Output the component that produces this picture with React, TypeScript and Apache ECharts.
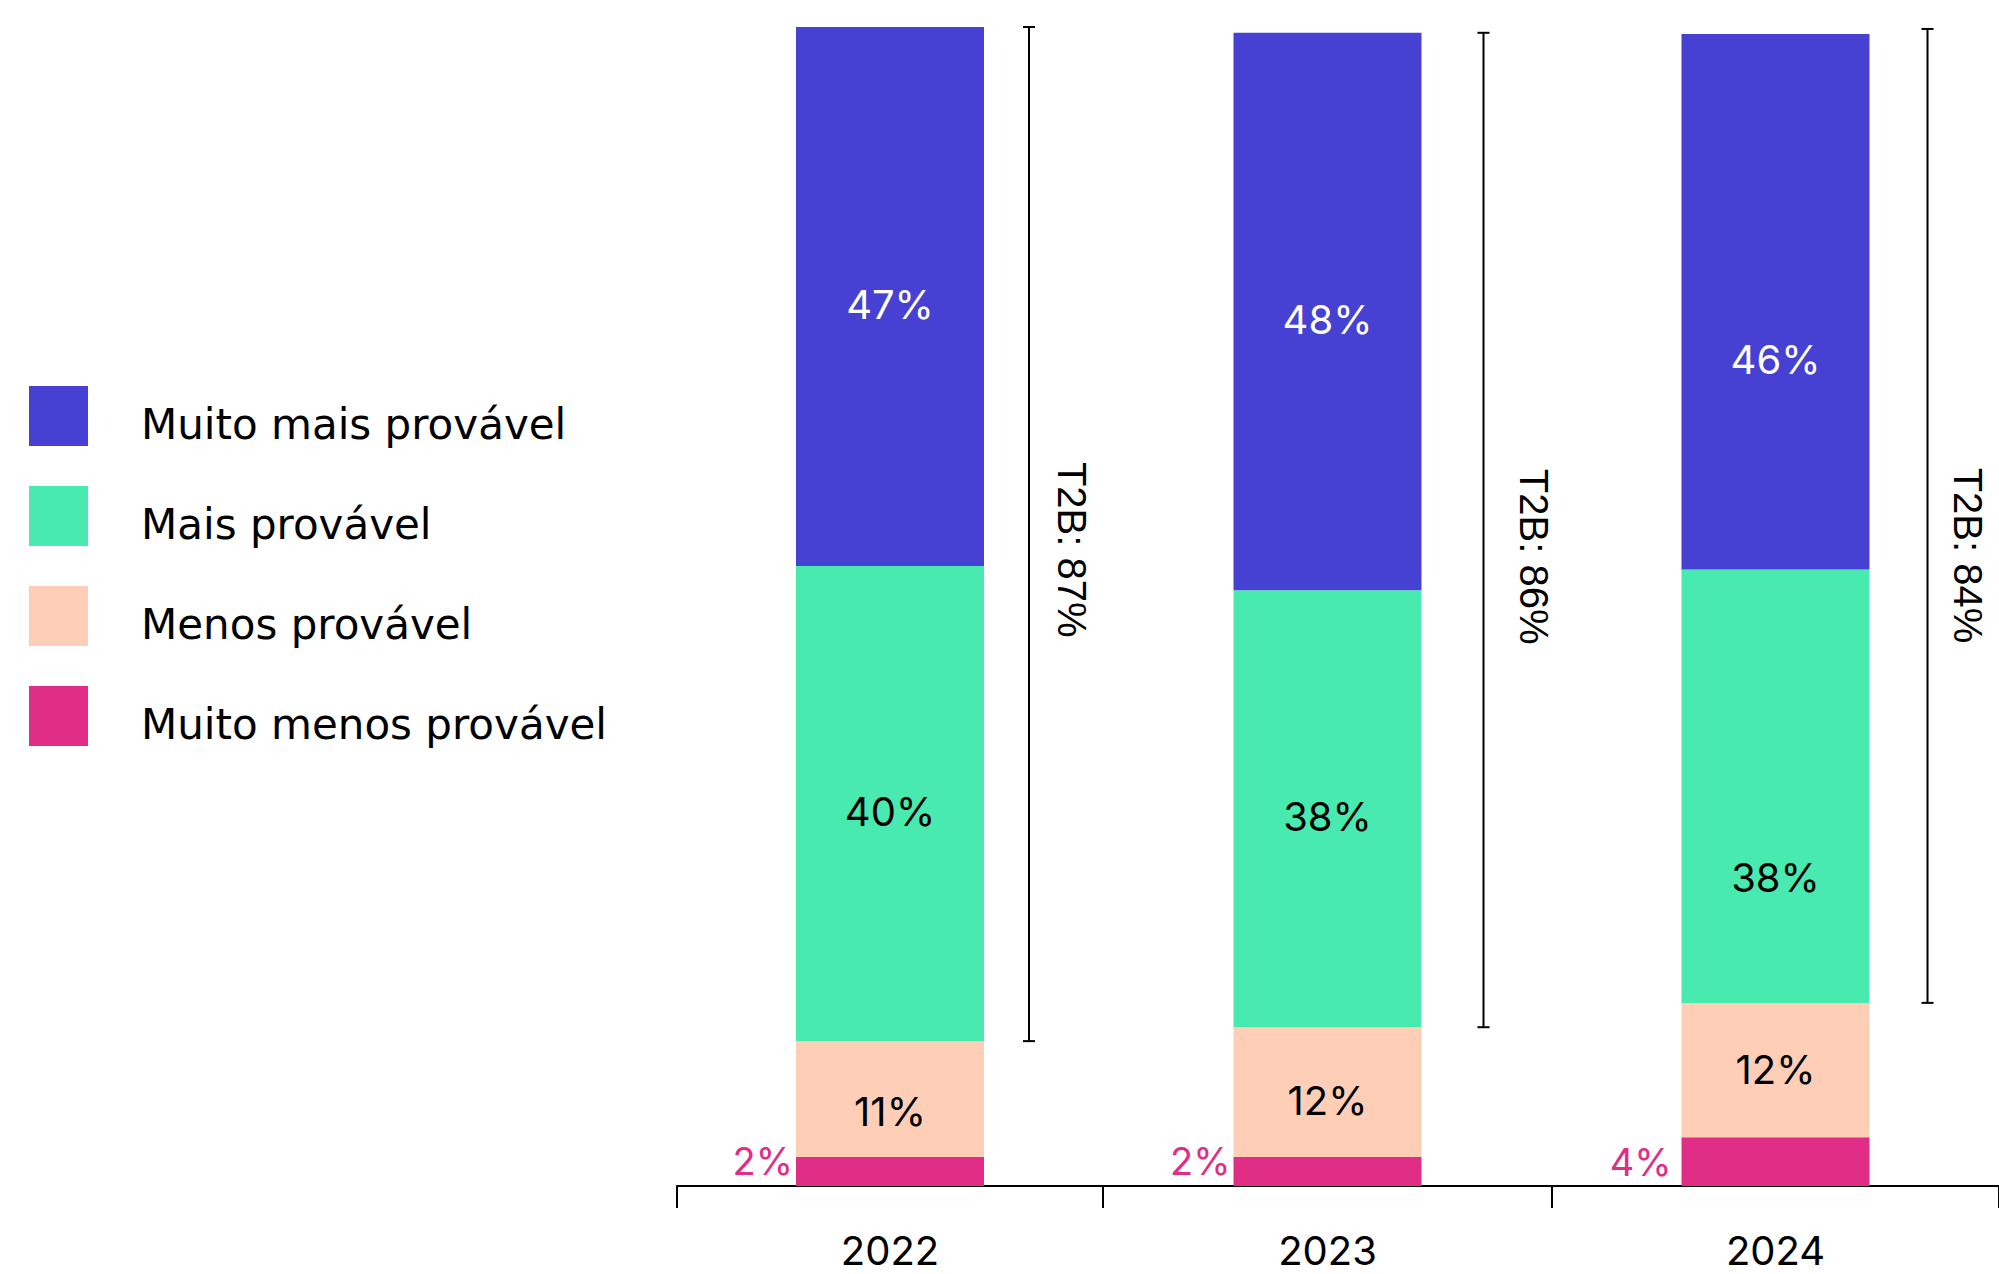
import React, { useEffect, useRef } from "react";
import * as echarts from "echarts";

// ---- data ----
const categories = ["2022", "2023", "2024"];
const seriesNames = ["Muito mais provável", "Mais provável", "Menos provável", "Muito menos provável"];
const muitoMais = [46.5, 48.1, 46.2];
const mais = [41.0, 37.7, 37.4];
const menos = [10.0, 11.2, 11.6];
const muitoMenos = [2.5, 2.5, 4.2];
const muitoMaisLabels = ["47%", "48%", "46%"];
const maisLabels = ["40%", "38%", "38%"];
const menosLabels = ["11%", "12%", "12%"];
const muitoMenosLabels = ["2%", "2%", "4%"];
const t2bValues = [87, 86, 84];

// ---- layout / style ----
const COLORS = ["#4640D3", "#49EAAF", "#FECFB6", "#E02D86"];
const FONT = "Inter";
const LEGEND_FONT = "DejaVu Sans";
const gridLefts = [677, 1103, 1552];
const gridWidths = [426, 449, 457];
const bracketDx = [139, 156, 152];
const bracketTopDy = [0, 0, -5];
const t2bTextDx = [182, 206, 192];
const t2bTextAt = [54.9, 54.3, 54.4];
const blueLabelDy = [8, 8, 58];
const greenLabelDy = [8, 8, 91];
const peachLabelDy = [12, 8, -1];
const pinkLabelDy = [-11, -11, 0];
const pinkLabelDist = [3, 3, 10];

export default function App() {
  const ref = useRef<HTMLDivElement>(null);
  useEffect(() => {
    if (!ref.current) return;
    const chart = echarts.init(ref.current, null, { renderer: "svg" });

    const grids = categories.map((_, i) => ({
      left: gridLefts[i],
      width: gridWidths[i],
      top: 27,
      bottom: 88,
      containLabel: false,
    }));
    const xAxes = categories.map((c, i) => ({
      type: "category",
      gridIndex: i,
      data: [c],
      axisLine: { show: true, lineStyle: { color: "#000", width: 2 } },
      axisTick: { show: true, length: 22, lineStyle: { color: "#000", width: 2 } },
      axisLabel: { color: "#000", fontSize: 40, fontFamily: FONT, margin: 44, lineHeight: 40 },
    }));
    const yAxes = categories.map((_, i) => ({
      type: "value",
      gridIndex: i,
      min: 0,
      max: 100,
      show: false,
      splitLine: { show: false },
    }));

    const layers = [
      { name: seriesNames[3], data: muitoMenos, labels: muitoMenosLabels, color: COLORS[3] },
      { name: seriesNames[2], data: menos, labels: menosLabels, color: COLORS[2] },
      { name: seriesNames[1], data: mais, labels: maisLabels, color: COLORS[1] },
      { name: seriesNames[0], data: muitoMais, labels: muitoMaisLabels, color: COLORS[0] },
    ];

    const series: any[] = [];
    categories.forEach((_, i) => {
      layers.forEach((layer, li) => {
        let label: any;
        if (li === 0) {
          label = {
            show: true,
            position: "left",
            distance: pinkLabelDist[i],
            offset: [0, pinkLabelDy[i]],
            formatter: layer.labels[i],
            color: COLORS[3],
            fontSize: 38,
            fontFamily: FONT,
          };
        } else {
          const dy = li === 1 ? peachLabelDy[i] : li === 2 ? greenLabelDy[i] : blueLabelDy[i];
          label = {
            show: true,
            position: "inside",
            offset: [0, dy],
            formatter: layer.labels[i],
            color: li === 3 ? "#fff" : "#000",
            fontSize: 40,
            fontFamily: FONT,
          };
        }
        series.push({
          type: "bar",
          name: layer.name,
          stack: "s" + i,
          xAxisIndex: i,
          yAxisIndex: i,
          barWidth: 188,
          data: [layer.data[i]],
          itemStyle: { color: layer.color },
          label,
        });
      });
      const low = muitoMenos[i] + menos[i];
      const high = low + mais[i] + muitoMais[i];
      series.push({
        type: "custom",
        xAxisIndex: i,
        yAxisIndex: i,
        clip: false,
        encode: { x: 0, y: [1, 2] },
        data: [[0, low, high]],
        renderItem: (params: any, api: any) => {
          const top = api.coord([0, api.value(2)]);
          const bot = api.coord([0, api.value(1)]);
          const x = top[0] + bracketDx[i];
          const yTop = top[1] + bracketTopDy[i];
          const ty = api.coord([0, t2bTextAt[i]])[1];
          const ls = { stroke: "#000", lineWidth: 2 };
          return {
            type: "group",
            children: [
              { type: "line", shape: { x1: x, y1: yTop, x2: x, y2: bot[1] }, style: ls },
              { type: "line", shape: { x1: x - 6, y1: yTop, x2: x + 6, y2: yTop }, style: ls },
              { type: "line", shape: { x1: x - 6, y1: bot[1], x2: x + 6, y2: bot[1] }, style: ls },
              {
                type: "text",
                x: top[0] + t2bTextDx[i],
                y: ty,
                rotation: -Math.PI / 2,
                style: {
                  text: "T2B: " + t2bValues[i] + "%",
                  fontSize: 40,
                  fontFamily: "Liberation Sans",
                  fill: "#000",
                  align: "center",
                  verticalAlign: "middle",
                },
              },
            ],
          };
        },
      });
    });

    chart.setOption({
      animation: false,
      backgroundColor: "#fff",
      legend: {
        orient: "vertical",
        left: 29,
        top: 386,
        padding: 0,
        itemWidth: 59,
        itemHeight: 60,
        itemGap: 40,
        icon: "rect",
        data: seriesNames,
        formatter: (name: string) => "{t|" + name + "}",
        textStyle: {
          fontSize: 42,
          fontFamily: LEGEND_FONT,
          color: "#000",
          padding: [0, 0, 0, 48],
          rich: {
            t: {
              fontSize: 42,
              fontFamily: LEGEND_FONT,
              color: "#000",
              padding: [16, 0, 0, 0],
            },
          },
        },
      },
      grid: grids,
      xAxis: xAxes,
      yAxis: yAxes,
      series,
    });
    return () => chart.dispose();
  }, []);
  return (
    <div
      ref={ref}
      style={{ position: "absolute", left: 0, top: 0, width: 1999, height: 1274 }}
    />
  );
}
